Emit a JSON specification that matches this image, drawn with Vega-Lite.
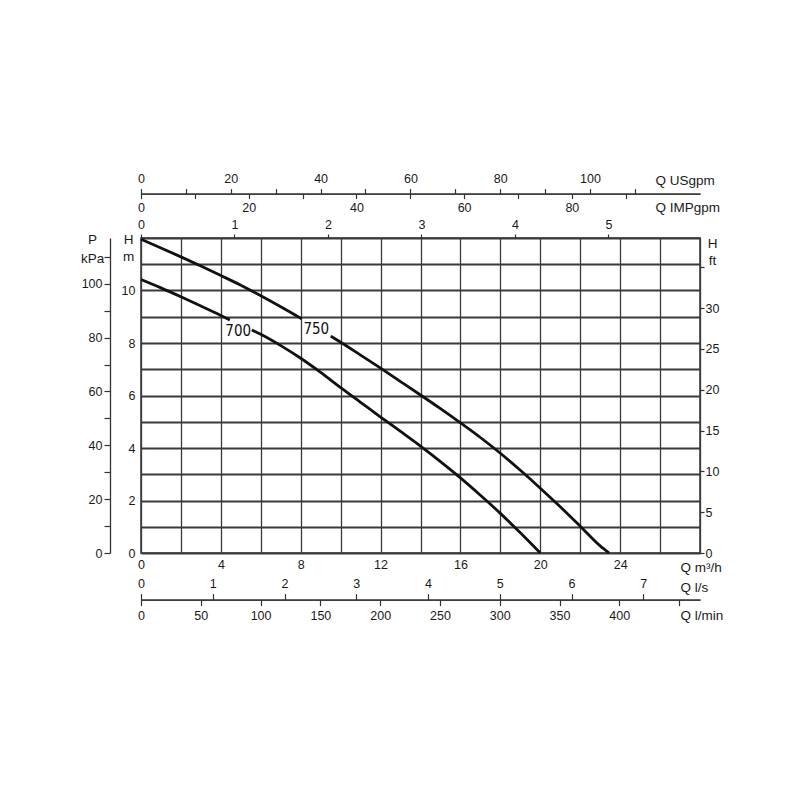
{
  "$schema": "https://vega.github.io/schema/vega-lite/v6.json",
  "autosize": {"type": "none"},
  "padding": {"left": 141, "top": 238, "right": 100, "bottom": 247},
  "width": 559,
  "height": 315,
  "background": "white",
  "config": {
    "view": {"stroke": "#333", "strokeWidth": 1.5},
    "axis": {
      "labelFont": "Liberation Sans", "labelFontSize": 12.5, "labelColor": "#1a1a1a",
      "titleFont": "Liberation Sans", "titleFontSize": 13.5, "titleFontWeight": "normal", "titleColor": "#1a1a1a",
      "labelFlush": false, "labelOverlap": false, "labelBound": false,
      "domainColor": "#333", "tickColor": "#333", "gridColor": "#3a3a3a",
      "domainWidth": 1.3, "tickWidth": 1.2
    }
  },
  "resolve": {"scale": {"x": "independent", "y": "independent"}, "axis": {"x": "independent", "y": "independent"}},
  "layer": [
    {
      "encoding": {
        "x": {"field": "Q", "type": "quantitative", "scale": {"domain": [0, 28], "nice": false},
          "axis": {"orient": "bottom", "values": [0,2,4,6,8,10,12,14,16,18,20,22,24,26,28],
            "labelExpr": "datum.value % 4 === 0 && datum.value < 28 ? datum.label : ''",
            "grid": true, "gridWidth": 1.3, "ticks": false, "tickSize": 0, "domain": false, "labelPadding": 5,
            "title": "Q m³/h", "titleX": 539, "titleY": 14, "titleAlign": "left", "titleBaseline": "middle"}},
        "y": {"field": "H", "type": "quantitative", "scale": {"domain": [0, 12], "nice": false},
          "axis": {"orient": "left", "values": [0,1,2,3,4,5,6,7,8,9,10,11,12],
            "labelExpr": "datum.value % 2 === 0 && datum.value <= 10 ? datum.label : ''",
            "grid": true, "gridWidth": 1.8, "ticks": false, "tickSize": 0, "domain": false, "labelPadding": 6,
            "title": ["H", "m"], "titleX": -13, "titleY": -6, "titleAngle": 0, "titleAlign": "center", "titleBaseline": "top", "titleLineHeight": 17}}
      },
      "layer": [
        {
          "data": {"values": [
            {"seg": "750a", "Q": 0, "H": 11.95}, {"seg": "750a", "Q": 1, "H": 11.62}, {"seg": "750a", "Q": 2, "H": 11.28},
            {"seg": "750a", "Q": 3, "H": 10.93}, {"seg": "750a", "Q": 4, "H": 10.57}, {"seg": "750a", "Q": 5, "H": 10.2},
            {"seg": "750a", "Q": 6, "H": 9.8}, {"seg": "750a", "Q": 7, "H": 9.38}, {"seg": "750a", "Q": 8.05, "H": 8.92},
            {"seg": "750b", "Q": 9.5, "H": 8.26}, {"seg": "750b", "Q": 10, "H": 8.03}, {"seg": "750b", "Q": 11, "H": 7.54},
            {"seg": "750b", "Q": 12, "H": 7.04}, {"seg": "750b", "Q": 13, "H": 6.53}, {"seg": "750b", "Q": 14, "H": 6.02},
            {"seg": "750b", "Q": 15, "H": 5.5}, {"seg": "750b", "Q": 16, "H": 4.96}, {"seg": "750b", "Q": 17, "H": 4.4},
            {"seg": "750b", "Q": 18, "H": 3.8}, {"seg": "750b", "Q": 19, "H": 3.15}, {"seg": "750b", "Q": 20, "H": 2.47},
            {"seg": "750b", "Q": 21, "H": 1.76}, {"seg": "750b", "Q": 22, "H": 1.02}, {"seg": "750b", "Q": 23, "H": 0.27},
            {"seg": "750b", "Q": 23.45, "H": 0},
            {"seg": "700a", "Q": 0, "H": 10.42}, {"seg": "700a", "Q": 1, "H": 10.1}, {"seg": "700a", "Q": 2, "H": 9.76},
            {"seg": "700a", "Q": 3, "H": 9.41}, {"seg": "700a", "Q": 4, "H": 9.05}, {"seg": "700a", "Q": 4.45, "H": 8.88},
            {"seg": "700b", "Q": 5.55, "H": 8.5}, {"seg": "700b", "Q": 6, "H": 8.33}, {"seg": "700b", "Q": 7, "H": 7.9},
            {"seg": "700b", "Q": 8, "H": 7.42}, {"seg": "700b", "Q": 9, "H": 6.88}, {"seg": "700b", "Q": 10, "H": 6.3},
            {"seg": "700b", "Q": 11, "H": 5.74}, {"seg": "700b", "Q": 12, "H": 5.18}, {"seg": "700b", "Q": 13, "H": 4.63},
            {"seg": "700b", "Q": 14, "H": 4.07}, {"seg": "700b", "Q": 15, "H": 3.48}, {"seg": "700b", "Q": 16, "H": 2.86},
            {"seg": "700b", "Q": 17, "H": 2.2}, {"seg": "700b", "Q": 18, "H": 1.51}, {"seg": "700b", "Q": 19, "H": 0.77},
            {"seg": "700b", "Q": 20, "H": 0}
          ]},
          "mark": {"type": "line", "color": "#111", "strokeWidth": 2.8, "interpolate": "monotone"},
          "encoding": {"detail": {"field": "seg"}}
        },
        {
          "data": {"values": [{"Q": 4.87, "H": 8.47, "label": "700"}, {"Q": 8.78, "H": 8.53, "label": "750"}]},
          "mark": {"type": "text", "font": "Liberation Sans Narrow, DejaVu Sans Condensed, Roboto Condensed, Liberation Sans, sans-serif", "fontSize": 15, "color": "#111", "align": "center", "baseline": "middle"},
          "encoding": {"text": {"field": "label"}}
        }
      ]
    },
    {
      "data": {"values": [{"v": 0}]},
      "mark": {"type": "point", "opacity": 0},
      "encoding": {"x": {"field": "v", "type": "quantitative", "scale": {"domain": [0, 5.98], "nice": false},
        "axis": {"orient": "top", "values": [0,1,2,3,4,5], "tickSize": 4, "labelPadding": 3, "domain": false, "grid": false, "title": null}}}
    },
    {
      "data": {"values": [{"v": 0}]},
      "mark": {"type": "point", "opacity": 0},
      "encoding": {"x": {"field": "v", "type": "quantitative", "scale": {"domain": [0, 124.5], "nice": false},
        "axis": {"orient": "top", "offset": 44.4, "values": [0,10,20,30,40,50,60,70,80,90,100,110],
          "labelExpr": "datum.value % 20 === 0 ? datum.label : ''", "tickSize": 5, "labelPadding": 3, "domain": true, "grid": false,
          "title": "Q USgpm", "titleX": 514, "titleY": -12.8, "titleAlign": "left", "titleBaseline": "middle"}}}
    },
    {
      "data": {"values": [{"v": 0}]},
      "mark": {"type": "point", "opacity": 0},
      "encoding": {"x": {"field": "v", "type": "quantitative", "scale": {"domain": [0, 103.8], "nice": false},
        "axis": {"orient": "bottom", "offset": -359.4, "values": [0,10,20,30,40,50,60,70,80,90],
          "labelExpr": "datum.value % 20 === 0 ? datum.label : ''", "tickSize": 5, "labelPadding": 3, "domain": true, "grid": false,
          "title": "Q IMPgpm", "titleX": 514, "titleY": 13.4, "titleAlign": "left", "titleBaseline": "middle"}}}
    },
    {
      "data": {"values": [{"v": 0}]},
      "mark": {"type": "point", "opacity": 0},
      "encoding": {"x": {"field": "v", "type": "quantitative", "scale": {"domain": [0, 7.79], "nice": false},
        "axis": {"orient": "top", "offset": -361.6, "values": [0,1,2,3,4,5,6,7], "tickSize": 6, "labelPadding": 3, "domain": true, "grid": false,
          "title": "Q l/s", "titleX": 539, "titleY": -12.6, "titleAlign": "left", "titleBaseline": "middle"}}}
    },
    {
      "data": {"values": [{"v": 0}]},
      "mark": {"type": "point", "opacity": 0},
      "encoding": {"x": {"field": "v", "type": "quantitative", "scale": {"domain": [0, 467.5], "nice": false},
        "axis": {"orient": "bottom", "offset": 46.6, "values": [0,50,100,150,200,250,300,350,400,450],
          "labelExpr": "datum.value < 450 ? datum.label : ''", "tickSize": 6, "labelPadding": 4, "domain": true, "grid": false,
          "title": "Q l/min", "titleX": 539, "titleY": 15.7, "titleAlign": "left", "titleBaseline": "middle"}}}
    },
    {
      "data": {"values": [{"v": 0}]},
      "mark": {"type": "point", "opacity": 0},
      "encoding": {"y": {"field": "v", "type": "quantitative", "scale": {"domain": [0, 117], "nice": false},
        "axis": {"orient": "left", "offset": 31, "values": [0,10,20,30,40,50,60,70,80,90,100,110],
          "labelExpr": "datum.value % 20 === 0 && datum.value <= 100 ? datum.label : ''", "tickSize": 6, "labelPadding": 2, "domain": true, "grid": false,
          "title": ["P", "kPa"], "titleX": -18, "titleY": -6, "titleAngle": 0, "titleAlign": "center", "titleBaseline": "top", "titleLineHeight": 19}}}
    },
    {
      "data": {"values": [{"v": 0}]},
      "mark": {"type": "point", "opacity": 0},
      "encoding": {"y": {"field": "v", "type": "quantitative", "scale": {"domain": [0, 38.6], "nice": false},
        "axis": {"orient": "right", "values": [0,5,10,15,20,25,30,35],
          "labelExpr": "datum.value <= 30 ? datum.label : ''", "tickSize": 4, "labelPadding": 1, "domain": false, "grid": false,
          "title": ["H", "ft"], "titleX": 12, "titleY": -2, "titleAngle": 0, "titleAlign": "center", "titleBaseline": "top", "titleLineHeight": 17}}}
    }
  ]
}
